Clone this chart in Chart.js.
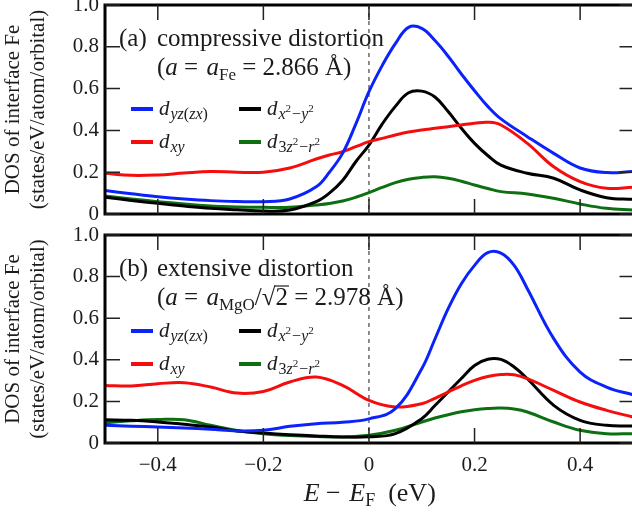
<!DOCTYPE html>
<html>
<head>
<meta charset="utf-8">
<script src="https://cdn.jsdelivr.net/npm/chart.js@4.4.1/dist/chart.umd.min.js"></script>
<style>
  body { margin: 0; background: #fff; }
  #wrap { position: relative; width: 632px; height: 514px; overflow: hidden; }
  .panel { position: absolute; left: 0; width: 640px; }
  #pa { top: 0; height: 225px; }
  #pb { top: 225px; height: 289px; }
</style>
</head>
<body>
<div id="wrap">
  <div class="panel" id="pa"><canvas id="chartA"></canvas></div>
  <div class="panel" id="pb"><canvas id="chartB"></canvas></div>
</div>
<script>
// energies (eV, relative to E_F)
const energyA = [-0.5,-0.45,-0.4,-0.35,-0.3,-0.25,-0.2,-0.15,-0.1,-0.075,-0.05,-0.025,0,0.025,0.05,0.075,0.1,0.125,0.15,0.175,0.2,0.225,0.25,0.3,0.35,0.4,0.45,0.5];
const energyB = [-0.5,-0.45,-0.4,-0.35,-0.3,-0.25,-0.2,-0.15,-0.1,-0.05,0,0.05,0.1,0.125,0.15,0.175,0.2,0.225,0.25,0.275,0.3,0.35,0.4,0.45,0.5];

// (a) compressive distortion
const yzA = [0.112,0.097,0.083,0.072,0.064,0.060,0.059,0.072,0.130,0.200,0.290,0.430,0.585,0.710,0.815,0.893,0.888,0.830,0.755,0.670,0.590,0.515,0.455,0.370,0.290,0.220,0.198,0.203];
const xyA = [0.195,0.185,0.187,0.196,0.203,0.200,0.200,0.220,0.263,0.282,0.298,0.322,0.346,0.362,0.378,0.392,0.402,0.410,0.418,0.426,0.434,0.439,0.426,0.338,0.226,0.155,0.123,0.128];
const x2y2A = [0.080,0.065,0.051,0.038,0.027,0.020,0.014,0.019,0.059,0.100,0.160,0.250,0.330,0.430,0.515,0.580,0.588,0.560,0.490,0.410,0.338,0.280,0.234,0.195,0.171,0.115,0.078,0.070];
const z2A = [0.086,0.072,0.059,0.048,0.038,0.034,0.032,0.032,0.043,0.050,0.062,0.080,0.102,0.127,0.150,0.166,0.175,0.178,0.171,0.157,0.139,0.122,0.107,0.096,0.075,0.048,0.027,0.019];

// (b) extensive distortion
const yzB = [0.085,0.081,0.077,0.072,0.066,0.058,0.061,0.080,0.093,0.100,0.116,0.165,0.357,0.500,0.646,0.766,0.854,0.915,0.913,0.854,0.742,0.502,0.341,0.269,0.232];
const xyB = [0.277,0.274,0.285,0.290,0.269,0.240,0.248,0.293,0.317,0.277,0.205,0.173,0.189,0.215,0.245,0.275,0.301,0.320,0.329,0.328,0.309,0.253,0.197,0.157,0.125];
const x2y2B = [0.112,0.109,0.101,0.090,0.077,0.058,0.048,0.040,0.034,0.029,0.030,0.045,0.117,0.180,0.245,0.310,0.373,0.403,0.402,0.365,0.309,0.181,0.109,0.085,0.082];
const z2B = [0.098,0.107,0.113,0.112,0.085,0.060,0.045,0.036,0.031,0.029,0.037,0.061,0.101,0.120,0.136,0.150,0.160,0.166,0.168,0.163,0.149,0.101,0.061,0.045,0.045];

const seriesNames = ["d_yz(zx)", "d_xy", "d_x2-y2", "d_3z2-r2"];
const seriesColors = ["#0b22fb", "#f50d0d", "#000000", "#0d6f12"];

const xTicks = [-0.4, -0.2, 0, 0.2, 0.4];
const xTickLabels = ["\u22120.4", "\u22120.2", "0", "0.2", "0.4"];
const yTicks = [0, 0.2, 0.4, 0.6, 0.8, 1.0];
const yTickLabels = ["0", "0.2", "0.4", "0.6", "0.8", "1.0"];
const yTitleLines = ["DOS of interface Fe", "(states/eV/atom/orbital)"];

const FONT = '"Liberation Serif", "Times New Roman", serif';
const INK = "#1c1c1c";

// draws a run of text pieces (italic / sub / superscript) left to right
function drawRich(ctx, x, y, parts) {
  for (const p of parts) {
    ctx.font = (p.i ? "italic " : "") + p.s + "px " + FONT;
    ctx.fillText(p.t, x, y + (p.dy || 0));
    const w = ctx.measureText(p.t).width;
    if (p.bar) {
      ctx.save();
      ctx.lineWidth = 1.2;
      ctx.strokeStyle = INK;
      ctx.beginPath();
      ctx.moveTo(x - 1, y - p.bar);
      ctx.lineTo(x + w + 1, y - p.bar);
      ctx.stroke();
      ctx.restore();
    }
    x += w + (p.gap || 0);
  }
  return x;
}
function richWidth(ctx, parts) {
  let w = 0;
  for (const p of parts) {
    ctx.font = (p.i ? "italic " : "") + p.s + "px " + FONT;
    w += ctx.measureText(p.t).width + (p.gap || 0);
  }
  return w;
}

const D = 21, SB = 16, SP = 11;
const legendLabels = [
  [{t:"d", i:1, s:D, gap:1}, {t:"yz", i:1, s:SB, dy:4}, {t:"(", s:SB, dy:4}, {t:"zx", i:1, s:SB, dy:4}, {t:")", s:SB, dy:4}],
  [{t:"d", i:1, s:D, gap:1}, {t:"xy", i:1, s:SB, dy:4}],
  [{t:"d", i:1, s:D, gap:1}, {t:"x", i:1, s:SB, dy:4}, {t:"2", s:SP, dy:-3, gap:1}, {t:"\u2212", s:SB, dy:4}, {t:"y", i:1, s:SB, dy:4}, {t:"2", s:SP, dy:-3}],
  [{t:"d", i:1, s:D, gap:1}, {t:"3", s:SB, dy:4}, {t:"z", i:1, s:SB, dy:4}, {t:"2", s:SP, dy:-3, gap:1}, {t:"\u2212", s:SB, dy:4}, {t:"r", i:1, s:SB, dy:4}, {t:"2", s:SP, dy:-3}]
];
// legend slot of each series: [column, row]
const legendSlots = [[0, 0], [0, 1], [1, 0], [1, 1]];

const T = 25;
const formulaA = [{t:"(", s:T}, {t:"a", i:1, s:T}, {t:" = ", s:T, gap:2}, {t:"a", i:1, s:T}, {t:"Fe", s:17, dy:5},
  {t:" = 2.866 \u00C5)", s:T}];
const formulaB = [{t:"(", s:T}, {t:"a", i:1, s:T}, {t:" = ", s:T, gap:2}, {t:"a", i:1, s:T}, {t:"MgO", s:17, dy:5},
  {t:"/", s:T}, {t:"\u221A", s:T}, {t:"2", s:T, bar:19}, {t:" = 2.978 \u00C5)", s:T}];
const xTitle = [{t:"E", i:1, s:26}, {t:" \u2212 ", s:26, gap:2}, {t:"E", i:1, s:26}, {t:"F", s:18, dy:5}, {t:"  (eV)", s:26}];

const panelInfo = {
  chartA: {tag:"(a)", title:"compressive distortion", formula:formulaA, legendTop:104, xTitle:false},
  chartB: {tag:"(b)", title:"extensive distortion", formula:formulaB, legendTop:96, xTitle:true}
};

const framePlugin = {
  id: "frame",
  beforeDatasetsDraw(chart) {
    const {ctx, chartArea: a} = chart;
    const x0 = chart.scales.x.getPixelForValue(0);
    ctx.save();
    ctx.strokeStyle = "#444";
    ctx.lineWidth = 1.2;
    ctx.setLineDash([4, 4]);
    ctx.beginPath();
    ctx.moveTo(x0, a.top);
    ctx.lineTo(x0, a.bottom);
    ctx.stroke();
    ctx.restore();
  },
  afterDatasetsDraw(chart) {
    const {ctx, chartArea: a} = chart;
    const xs = chart.scales.x, ys = chart.scales.y;
    const info = panelInfo[chart.canvas.id];
    ctx.save();
    ctx.strokeStyle = "#000";
    ctx.lineWidth = 3;
    ctx.strokeRect(a.left, a.top, a.right - a.left, a.bottom - a.top);
    ctx.lineWidth = 1.5;
    ctx.strokeStyle = "#222";
    ctx.beginPath();
    xTicks.forEach(v => {
      const px = xs.getPixelForValue(v);
      ctx.moveTo(px, a.top); ctx.lineTo(px, a.top + 15);
      ctx.moveTo(px, a.bottom); ctx.lineTo(px, a.bottom - 15);
    });
    yTicks.forEach(v => {
      const py = ys.getPixelForValue(v);
      ctx.moveTo(a.left, py); ctx.lineTo(a.left + 15, py);
      ctx.moveTo(a.right, py); ctx.lineTo(a.right - 15, py);
    });
    ctx.stroke();

    // panel caption
    ctx.fillStyle = INK;
    ctx.textBaseline = "alphabetic";
    ctx.textAlign = "left";
    ctx.font = T + "px " + FONT;
    ctx.fillText(info.tag, a.left + 14, a.top + 41);
    ctx.fillText(info.title, a.left + 52, a.top + 41);
    drawRich(ctx, a.left + 52, a.top + 70, info.formula);

    // legend, two columns
    legendLabels.forEach((parts, k) => {
      const [col, row] = legendSlots[k];
      const y = a.top + info.legendTop + row * 33;
      const x = a.left + 26 + col * 108;
      ctx.strokeStyle = seriesColors[k];
      ctx.lineWidth = 4;
      ctx.beginPath();
      ctx.moveTo(x, y); ctx.lineTo(x + 22, y);
      ctx.stroke();
      ctx.fillStyle = INK;
      drawRich(ctx, x + 28, y + 6, parts);
    });

    if (info.xTitle) {
      const w = richWidth(ctx, xTitle);
      const cx = (a.left + a.right) / 2;
      drawRich(ctx, cx - w / 2, a.bottom + 58, xTitle);
    }
    ctx.restore();
  }
};

function makeDatasets(energy, series) {
  return series.map((vals, k) => ({
    label: seriesNames[k],
    data: energy.map((e, i) => ({x: e, y: vals[i]})),
    borderColor: seriesColors[k],
    borderWidth: 3,
    pointRadius: 0,
    tension: 0.4,
    fill: false
  }));
}

function makeChart(id, energy, series, bottom) {
  return new Chart(document.getElementById(id), {
    type: "line",
    data: {datasets: makeDatasets(energy, series)},
    plugins: [framePlugin],
    options: {
      responsive: true,
      maintainAspectRatio: false,
      animation: false,
      devicePixelRatio: 1,
      layout: {padding: bottom ? {top: 10, right: 5.5, bottom: 0, left: 0} : {top: 5, right: 5.5, bottom: 11, left: 0}},
      plugins: {legend: {display: false}, tooltip: {enabled: false}},
      scales: {
        x: {
          type: "linear",
          min: -0.5,
          max: 0.503,
          display: bottom,
          grid: {display: false, drawTicks: false},
          border: {display: false},
          ticks: {
            font: {family: FONT, size: 21},
            color: INK,
            padding: 10,
            maxRotation: 0,
            autoSkip: false,
            callback: (v, i) => xTickLabels[i]
          },
          afterBuildTicks: s => { s.ticks = xTicks.map(v => ({value: v})); },
          afterFit: s => { s.height = bottom ? 71 : 0; s.paddingLeft = 0; s.paddingRight = 0; }
        },
        y: {
          type: "linear",
          min: 0,
          max: 1,
          grid: {display: false, drawTicks: false},
          border: {display: false},
          ticks: {
            font: {family: FONT, size: 21},
            color: INK,
            padding: 6,
            autoSkip: false,
            callback: (v, i) => yTickLabels[i]
          },
          afterBuildTicks: s => { s.ticks = yTicks.map(v => ({value: v})); },
          afterFit: s => { s.width = 105; s.paddingTop = 0; s.paddingBottom = 0; },
          title: {
            display: true,
            text: yTitleLines,
            color: INK,
            font: {family: FONT, size: 21, lineHeight: 1.2},
            padding: {top: 1, bottom: 0}
          }
        }
      }
    }
  });
}

makeChart("chartA", energyA, [yzA, xyA, x2y2A, z2A], false);
makeChart("chartB", energyB, [yzB, xyB, x2y2B, z2B], true);
</script>
</body>
</html>
